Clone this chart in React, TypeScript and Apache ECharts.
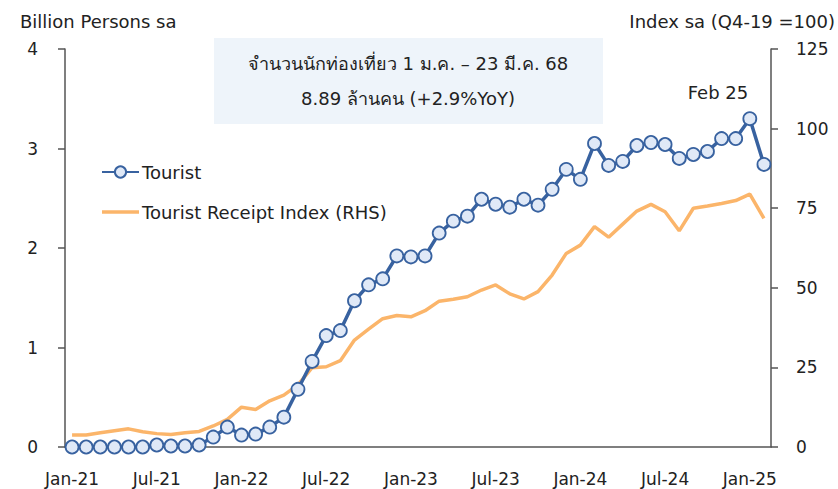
import React, { useEffect, useRef } from "react";
import * as echarts from "echarts";

const months = [
  "Jan-21","Feb-21","Mar-21","Apr-21","May-21","Jun-21","Jul-21","Aug-21","Sep-21","Oct-21","Nov-21","Dec-21",
  "Jan-22","Feb-22","Mar-22","Apr-22","May-22","Jun-22","Jul-22","Aug-22","Sep-22","Oct-22","Nov-22","Dec-22",
  "Jan-23","Feb-23","Mar-23","Apr-23","May-23","Jun-23","Jul-23","Aug-23","Sep-23","Oct-23","Nov-23","Dec-23",
  "Jan-24","Feb-24","Mar-24","Apr-24","May-24","Jun-24","Jul-24","Aug-24","Sep-24","Oct-24","Nov-24","Dec-24",
  "Jan-25","Feb-25",
];

const tourist = [
  0, 0, 0, 0, 0, 0, 0.02, 0.01, 0.01, 0.02, 0.1, 0.2,
  0.12, 0.13, 0.2, 0.3, 0.58, 0.86, 1.12, 1.17, 1.47, 1.63, 1.69, 1.92,
  1.91, 1.92, 2.15, 2.27, 2.32, 2.49, 2.44, 2.41, 2.49, 2.43, 2.59, 2.79,
  2.69, 3.05, 2.83, 2.87, 3.03, 3.06, 3.04, 2.9, 2.94, 2.97, 3.1, 3.1,
  3.3, 2.84,
];

const receiptIndex = [
  3.8, 3.8, 4.5, 5.1, 5.7, 4.8, 4.2, 3.9, 4.5, 4.9, 6.6, 8.7,
  12.5, 11.8, 14.5, 16.3, 19.5, 24.9, 25.2, 27.1, 33.6, 37, 40.3, 41.3,
  40.9, 42.8, 45.8, 46.4, 47.2, 49.3, 50.9, 48.1, 46.5, 48.8, 54, 60.8,
  63.4, 69.2, 65.9, 70, 74.1, 76.2, 73.9, 67.9, 75, 75.7, 76.5, 77.4,
  79.4, 71.8,
];

const leftTitle = "Billion Persons sa";
const rightTitle = "Index sa (Q4-19 =100)";
const noteLine1 = "จำนวนนักท่องเที่ยว 1 ม.ค. – 23 มี.ค. 68";
const noteLine2 = "8.89 ล้านคน (+2.9%YoY)";
const lastLabel = "Feb 25";

const FONT = "'DejaVu Sans', 'Noto Sans', sans-serif";
const BLUE = "#3862a0";
const ORANGE = "#fbb56a";
const TXT = "#222222";
const AXIS = "#555555";

export default function App() {
  const ref = useRef<HTMLDivElement>(null);
  useEffect(() => {
    if (!ref.current) return;
    const chart = echarts.init(ref.current, null, { renderer: "svg" });
    chart.setOption({
      animation: false,
      backgroundColor: "#ffffff",
      textStyle: { fontFamily: FONT },
      grid: { left: 65, right: 67, top: 49, bottom: 42, containLabel: false },
      legend: {
        orient: "vertical",
        left: 101,
        top: 163,
        padding: 0,
        itemWidth: 37,
        itemHeight: 14,
        itemGap: 22,
        textStyle: { fontSize: 18, color: TXT, fontFamily: FONT, padding: [0, 0, 0, -2] },
        data: [
          { name: "Tourist" },
          { name: "Tourist Receipt Index (RHS)", icon: "path://M0,0 L38,0 L38,3.5 L0,3.5 Z" },
        ],
      },
      xAxis: {
        type: "category",
        data: months,
        boundaryGap: true,
        axisLine: { lineStyle: { color: AXIS, width: 1.5 } },
        axisTick: { interval: 2, length: 7, lineStyle: { color: AXIS, width: 1.5 } },
        axisLabel: { interval: 5, fontSize: 17, color: TXT, margin: 23, fontFamily: FONT },
        splitLine: { show: false },
      },
      yAxis: [
        {
          type: "value",
          min: 0,
          max: 4,
          interval: 1,
          position: "left",
          axisLine: { show: true, lineStyle: { color: AXIS, width: 1.5 } },
          axisTick: { show: true, length: 7, lineStyle: { color: AXIS, width: 1.5 } },
          axisLabel: { fontSize: 17, color: TXT, margin: 27, fontFamily: FONT },
          splitLine: { show: false },
        },
        {
          type: "value",
          min: 0,
          max: 125,
          interval: 25,
          position: "right",
          axisLine: { show: true, lineStyle: { color: AXIS, width: 1.5 } },
          axisTick: { show: true, length: 7, lineStyle: { color: AXIS, width: 1.5 } },
          axisLabel: { fontSize: 17, color: TXT, margin: 25, fontFamily: FONT },
          splitLine: { show: false },
        },
      ],
      series: [
        {
          name: "Tourist Receipt Index (RHS)",
          type: "line",
          yAxisIndex: 1,
          data: receiptIndex,
          symbol: "none",
          lineStyle: { color: ORANGE, width: 3.5 },
          itemStyle: { color: ORANGE },
          z: 2,
        },
        {
          name: "Tourist",
          type: "line",
          yAxisIndex: 0,
          data: tourist,
          symbol: "circle",
          symbolSize: 13,
          showAllSymbol: true,
          lineStyle: { color: BLUE, width: 3.5 },
          itemStyle: { color: "#e0e9f7", borderColor: BLUE, borderWidth: 1.8 },
          z: 3,
        },
      ],
      graphic: [
        {
          type: "text",
          left: 20,
          top: 12,
          style: { text: leftTitle, fontSize: 18, fill: TXT, fontFamily: FONT },
        },
        {
          type: "text",
          right: 3,
          top: 12,
          style: { text: rightTitle, fontSize: 18, fill: TXT, fontFamily: FONT },
        },
        {
          type: "rect",
          shape: { x: 214, y: 38, width: 389, height: 86 },
          style: { fill: "#eef4fa" },
          z: 0,
        },
        {
          type: "text",
          x: 408,
          y: 63,
          style: {
            text: noteLine1,
            fontSize: 18,
            fill: TXT,
            fontFamily: FONT,
            align: "center",
            verticalAlign: "middle",
          },
          z: 1,
        },
        {
          type: "text",
          x: 408,
          y: 98,
          style: {
            text: noteLine2,
            fontSize: 18,
            fill: TXT,
            fontFamily: FONT,
            align: "center",
            verticalAlign: "middle",
          },
          z: 1,
        },
        {
          type: "text",
          x: 718,
          y: 92,
          style: {
            text: lastLabel,
            fontSize: 18,
            fill: TXT,
            fontFamily: FONT,
            align: "center",
            verticalAlign: "middle",
          },
          z: 1,
        },
      ],
    });
    return () => chart.dispose();
  }, []);
  return <div ref={ref} style={{ width: 838, height: 489, position: "absolute", left: 0, top: 0 }} />;
}
